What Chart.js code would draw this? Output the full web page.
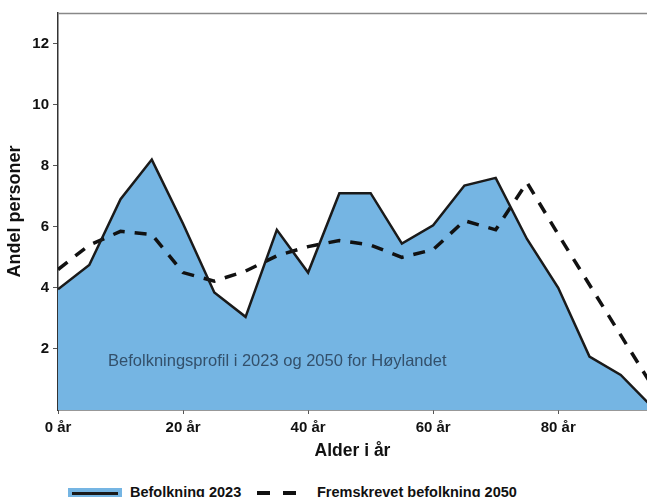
<!DOCTYPE html>
<html>
<head>
<meta charset="utf-8">
<script src="https://cdn.jsdelivr.net/npm/chart.js@4"></script>
<style>
  html, body { margin: 0; padding: 0; background: #fff; overflow: hidden; }
  #wrap { position: relative; width: 647px; height: 497px; }
  #chartBox { position: absolute; left: 0; top: 0; width: 647px; height: 462px; }
  .legend { position: absolute; top: 482px; left: 0; width: 647px; height: 20px;
            font: bold 14.5px "Liberation Sans", Arial, sans-serif; color: #111; }
  .legend span { position: absolute; }
  .box2023 { left: 68px; top: 6px; width: 54px; height: 16px; background: #75b5e3; }
  .box2023::after { content: ""; position: absolute; left: 4px; right: 4px; top: 4px; height: 3px; background: #1a1a1a; }
  .dash2050 { left: 257px; top: 9px; width: 40px; height: 4px;
              background: repeating-linear-gradient(to right, #111 0 13px, transparent 13px 26px); }
</style>
</head>
<body>
<div id="wrap">
  <div id="chartBox"><canvas id="profil"></canvas></div>
  <div class="legend">
    <span class="box2023"></span>
    <span style="left:130px; top:2px;">Befolkning 2023</span>
    <span class="dash2050"></span>
    <span style="left:317px; top:2px;">Fremskrevet befolkning 2050</span>
  </div>
</div>
<script>
// alder (5-årsgrupper) og andel personer i prosent
const alder = [0, 5, 10, 15, 20, 25, 30, 35, 40, 45, 50, 55, 60, 65, 70, 75, 80, 85, 90, 95];
const befolkning2023 = [3.95, 4.75, 6.9, 8.2, 6.1, 3.85, 3.05, 5.9, 4.5, 7.1, 7.1, 5.45, 6.05, 7.35, 7.6, 5.6, 4.0, 1.75, 1.15, 0.1];
const befolkning2050 = [4.6, 5.4, 5.85, 5.75, 4.5, 4.22, 4.55, 5.05, 5.35, 5.55, 5.4, 5.0, 5.25, 6.2, 5.9, 7.45, 5.75, 4.1, 2.45, 0.8];
const xTicks = [0, 20, 40, 60, 80];
const yTicks = [2, 4, 6, 8, 10, 12];
const tekst = "Befolkningsprofil i 2023 og 2050 for Høylandet";

const fontFamily = '"Liberation Sans", Arial, sans-serif';

const frame = {
  id: "frame",
  afterDraw(chart) {
    const a = chart.chartArea;
    const ctx = chart.ctx;
    ctx.save();
    ctx.strokeStyle = "#888";
    ctx.lineWidth = 1.5;
    ctx.beginPath();
    ctx.moveTo(a.left, a.top + 0.5);
    ctx.lineTo(a.right, a.top + 0.5);
    ctx.stroke();
    ctx.restore();
  }
};

const annotation = {
  id: "annotation",
  afterDatasetsDraw(chart) {
    const ctx = chart.ctx;
    const x = chart.scales.x.getPixelForValue(8);
    const y = chart.scales.y.getPixelForValue(1.6);
    ctx.save();
    ctx.font = "16.5px " + fontFamily;
    ctx.fillStyle = "#33506b";
    ctx.textBaseline = "middle";
    ctx.fillText(tekst, x, y);
    ctx.restore();
  }
};

new Chart(document.getElementById("profil"), {
  type: "line",
  data: {
    datasets: [
      {
        label: "Befolkning 2023",
        data: alder.map((a, i) => ({ x: a, y: befolkning2023[i] })),
        borderColor: "#1a1a1a",
        borderWidth: 2.5,
        backgroundColor: "#75b5e3",
        fill: "origin",
        pointRadius: 0,
        tension: 0
      },
      {
        label: "Fremskrevet befolkning 2050",
        data: alder.map((a, i) => ({ x: a, y: befolkning2050[i] })),
        borderColor: "#111",
        borderWidth: 3.5,
        borderDash: [12, 10],
        fill: false,
        pointRadius: 0,
        tension: 0
      }
    ]
  },
  options: {
    responsive: true,
    maintainAspectRatio: false,
    animation: false,
    layout: { padding: { top: 13, right: 0, left: 0, bottom: 0 } },
    plugins: {
      legend: { display: false },
      tooltip: { enabled: false },
      filler: { drawTime: "beforeDatasetsDraw" }
    },
    scales: {
      x: {
        type: "linear",
        min: 0,
        max: 94.2,
        afterFit(scale) { scale.height = 52; },
        afterBuildTicks(scale) { scale.ticks = xTicks.map(v => ({ value: v })); },
        ticks: {
          callback: v => v + " år",
          color: "#111",
          padding: 5,
          maxRotation: 0,
          font: { family: fontFamily, size: 15, weight: "bold" }
        },
        grid: { drawOnChartArea: false, tickLength: 4, color: "#555" },
        border: { display: true, color: "#333", width: 1.5 },
        title: {
          display: true,
          text: "Alder i år",
          color: "#111",
          padding: { top: 0, bottom: 0 },
          font: { family: fontFamily, size: 17.5, weight: "bold" }
        }
      },
      y: {
        min: 0,
        max: 13,
        afterFit(scale) { scale.width = 58; },
        afterBuildTicks(scale) { scale.ticks = yTicks.map(v => ({ value: v })); },
        ticks: {
          color: "#111",
          padding: 4,
          font: { family: fontFamily, size: 15, weight: "bold" }
        },
        grid: { drawOnChartArea: false, tickLength: 5, color: "#555" },
        border: { display: true, color: "#333", width: 1.5 },
        title: {
          display: true,
          text: "Andel personer",
          color: "#111",
          padding: { top: 4, bottom: 0 },
          font: { family: fontFamily, size: 18, weight: "bold" }
        }
      }
    }
  },
  plugins: [frame, annotation]
});
</script>
</body>
</html>
